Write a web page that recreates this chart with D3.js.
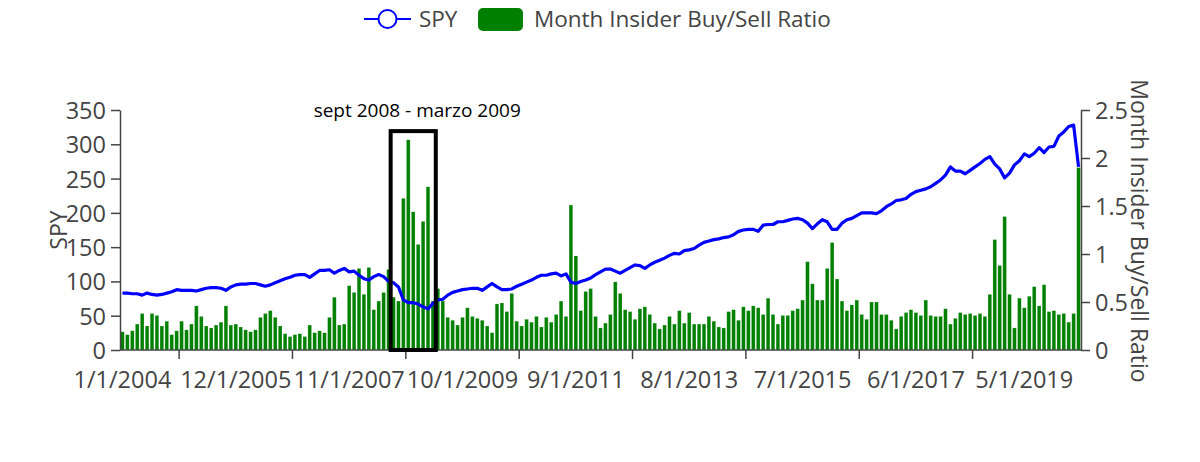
<!DOCTYPE html>
<html>
  <head>
    <meta charset="UTF-8">
    <title>SPY vs Insider Buy/Sell Ratio</title>
    <script src="https://cdn.jsdelivr.net/npm/d3@7"></script>
    <style>
      body { margin: 0; background: #fff; }
      svg text { font-family: "Open Sans", "Noto Sans", sans-serif; fill: #444; }
      .axis path, .axis line { stroke: #444; stroke-width: 1.5; }
      .axis text { font-size: 23.5px; }
    </style>
  </head>
  <body>
    <script>
      // monthly categories, Jan 2004 .. Mar 2020
      var months = [];
      for (var i = 0; i < 195; i++) {
        var yr = 2004 + Math.floor(i / 12);
        months.push((i % 12 + 1) + "/1/" + yr);
      }

      var tickLabels = ["1/1/2004", "12/1/2005", "11/1/2007", "10/1/2009", "9/1/2011",
                        "8/1/2013", "7/1/2015", "6/1/2017", "5/1/2019"];

      var spy = [
        83,83,82,82,80,83,81,80,81,83,
        85,88,87,87,87,86,88,90,91,91,
        90,87,92,95,96,96,97,97,95,93,
        95,98,101,104,106,109,110,110,106,111,
        116,116,117,112,116,119,114,115,109,104,
        102,107,110,107,100,98,92,73,69,69,
        67,63,60,68,73,74,80,84,86,88,
        89,90,90,87,92,97,92,88,88,89,
        93,96,99,102,106,109,109,111,112,108,
        111,99,97,100,102,105,110,114,118,118,
        115,112,116,120,124,123,119,124,128,131,
        134,138,141,140,145,146,148,153,157,159,
        161,162,164,165,168,173,175,176,176,173,
        182,183,183,187,187,189,191,192,190,185,
        177,184,190,187,176,176,185,190,192,196,
        200,200,200,199,203,209,213,218,219,221,
        227,231,233,235,238,243,248,255,267,261,
        261,257,262,267,272,278,282,271,264,251,
        258,270,276,286,282,287,295,288,296,297,
        312,318,326,328,267
      ];

      var ratio = [
        0.19,0.16,0.20,0.27,0.38,0.25,0.38,0.36,0.25,0.30,
        0.16,0.20,0.30,0.21,0.27,0.46,0.35,0.25,0.23,0.26,
        0.29,0.46,0.26,0.27,0.24,0.21,0.19,0.21,0.34,0.38,
        0.41,0.34,0.25,0.17,0.14,0.16,0.17,0.14,0.26,0.18,
        0.20,0.18,0.34,0.55,0.26,0.27,0.67,0.60,0.85,0.58,
        0.86,0.42,0.51,0.60,0.84,0.55,0.51,1.58,2.19,1.44,
        1.10,1.34,1.70,0.51,0.64,0.51,0.34,0.31,0.26,0.34,
        0.44,0.35,0.33,0.31,0.25,0.18,0.48,0.49,0.40,0.59,
        0.30,0.25,0.32,0.29,0.35,0.24,0.34,0.29,0.37,0.51,
        0.35,1.51,0.98,0.41,0.61,0.64,0.35,0.23,0.28,0.37,
        0.71,0.59,0.42,0.40,0.32,0.43,0.45,0.37,0.28,0.22,
        0.26,0.35,0.27,0.41,0.28,0.39,0.27,0.27,0.27,0.35,
        0.30,0.24,0.23,0.40,0.42,0.31,0.45,0.41,0.46,0.44,
        0.37,0.54,0.37,0.27,0.36,0.36,0.41,0.43,0.52,0.92,
        0.69,0.52,0.52,0.85,1.12,0.74,0.51,0.41,0.47,0.52,
        0.37,0.32,0.50,0.50,0.37,0.37,0.31,0.22,0.35,0.39,
        0.42,0.39,0.36,0.52,0.36,0.35,0.35,0.43,0.27,0.33,
        0.39,0.37,0.38,0.36,0.38,0.35,0.58,1.15,0.88,1.39,
        0.58,0.23,0.54,0.44,0.56,0.66,0.46,0.68,0.40,0.41,
        0.37,0.38,0.29,0.38,1.90
      ];

      // highlighted period (sept 2008 - marzo 2009)
      var boxFrom = "8/1/2008", boxTo = "4/1/2009", boxTop = 2.28;
      var boxLabel = "sept 2008 - marzo 2009";

      var plotL = 120, plotR = 1081, plotT = 110, plotB = 350;

      var svg = d3.select("body").append("svg")
        .attr("width", 1200)
        .attr("height", 462);

      var x = d3.scaleBand().domain(months).range([plotL, plotR]).paddingInner(0.25).paddingOuter(0.12);
      var yL = d3.scaleLinear().domain([0, 350]).range([plotB, plotT]);
      var yR = d3.scaleLinear().domain([0, 2.5]).range([plotB, plotT]);

      // bars
      svg.append("g").selectAll("rect")
        .data(ratio)
        .enter().append("rect")
        .attr("x", function (d, i) { return x(months[i]); })
        .attr("y", function (d) { return yR(d); })
        .attr("width", x.bandwidth())
        .attr("height", function (d) { return plotB - yR(d); })
        .style("fill", "#008000")
        .style("stroke", "rgba(255,255,255,0.35)")
        .style("stroke-width", 0.6);

      // SPY line
      var line = d3.line()
        .x(function (d, i) { return x(months[i]) + x.bandwidth() / 2; })
        .y(function (d) { return yL(d); });
      svg.append("path")
        .datum(spy)
        .attr("d", line)
        .style("fill", "none")
        .style("stroke", "#0000ff")
        .style("stroke-width", 3.2)
        .style("stroke-linejoin", "round");

      // left axis
      var gL = svg.append("g").attr("class", "axis")
        .attr("transform", "translate(" + plotL + ",0)")
        .call(d3.axisLeft(yL).tickValues(d3.range(0, 351, 50)).tickSize(9).tickSizeOuter(0).tickPadding(5));
      gL.selectAll("text").attr("dy", "0.36em");

      // right axis
      var gR = svg.append("g").attr("class", "axis")
        .attr("transform", "translate(" + plotR + ",0)")
        .call(d3.axisRight(yR).tickValues([0, 0.5, 1, 1.5, 2, 2.5]).tickFormat(d3.format("")).tickSize(9).tickSizeOuter(0).tickPadding(5));
      gR.selectAll("text").attr("dy", "0.36em");

      // bottom axis
      var gB = svg.append("g").attr("class", "axis");
      gB.append("line")
        .attr("x1", plotL).attr("x2", plotR)
        .attr("y1", plotB).attr("y2", plotB);
      tickLabels.forEach(function (t, k) {
        var i = months.indexOf(t);
        // tick marks sit half way between labels
        var tx = x(months[i + 12]) - x.step() * x.paddingInner() / 2;
        if (k < tickLabels.length - 1) {
          gB.append("line")
            .attr("x1", tx).attr("x2", tx)
            .attr("y1", plotB).attr("y2", plotB + 9);
        }
        gB.append("text")
          .attr("x", x(t) + x.bandwidth() / 2 - (k === tickLabels.length - 1 ? 5 : 0))
          .attr("y", plotB + 38)
          .attr("text-anchor", "middle")
          .text(t);
      });

      // axis titles
      svg.append("text")
        .attr("transform", "translate(67,230) rotate(-90)")
        .attr("text-anchor", "middle")
        .style("font-size", "23px")
        .text("SPY");
      svg.append("text")
        .attr("transform", "translate(1131,231) rotate(90)")
        .attr("text-anchor", "middle")
        .style("font-size", "23px")
        .text("Month Insider Buy/Sell Ratio");

      // highlight box
      var bx0 = x(boxFrom) - 1, bx1 = x(boxTo) + x.bandwidth() + 1;
      svg.append("rect")
        .attr("x", bx0)
        .attr("y", yR(boxTop))
        .attr("width", bx1 - bx0)
        .attr("height", plotB - yR(boxTop))
        .style("fill", "none")
        .style("stroke", "#000")
        .style("stroke-width", 4);
      svg.append("text")
        .attr("x", (bx0 + bx1) / 2 + 4)
        .attr("y", 117)
        .attr("text-anchor", "middle")
        .style("font-size", "19px")
        .style("fill", "#000")
        .text(boxLabel);

      // legend
      var lg = svg.append("g");
      lg.append("line")
        .attr("x1", 364).attr("x2", 411).attr("y1", 19).attr("y2", 19)
        .style("stroke", "#0000ff").style("stroke-width", 2);
      lg.append("circle")
        .attr("cx", 387.5).attr("cy", 19).attr("r", 9)
        .style("fill", "#fff").style("stroke", "#0000ff").style("stroke-width", 2);
      lg.append("text")
        .attr("x", 419).attr("y", 27)
        .style("font-size", "22.5px")
        .text("SPY");
      lg.append("rect")
        .attr("x", 478).attr("y", 8).attr("width", 45).attr("height", 23).attr("rx", 5)
        .style("fill", "#008000");
      lg.append("text")
        .attr("x", 534).attr("y", 27)
        .style("font-size", "22.5px")
        .text("Month Insider Buy/Sell Ratio");
    </script>
  </body>
</html>
